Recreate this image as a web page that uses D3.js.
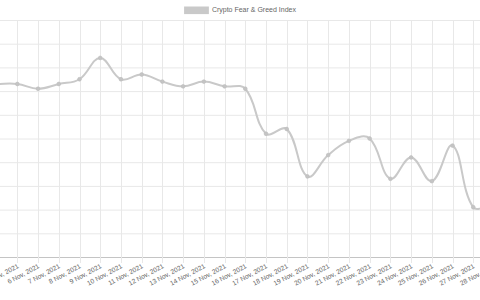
<!DOCTYPE html>
<html>
<head>
<meta charset="utf-8">
<script src="https://cdn.jsdelivr.net/npm/d3@7"></script>
<style>
    body { margin: 0; background: #fff; }
    svg { display: block; font-family: "Liberation Sans", Arial, sans-serif; }
</style>
</head>
<body>
<div class="svg-container"></div>
<script>
// data
const days = ['2021-11-04', '2021-11-05', '2021-11-06', '2021-11-07', '2021-11-08', '2021-11-09',
    '2021-11-10', '2021-11-11', '2021-11-12', '2021-11-13', '2021-11-14', '2021-11-15',
    '2021-11-16', '2021-11-17', '2021-11-18', '2021-11-19', '2021-11-20', '2021-11-21',
    '2021-11-22', '2021-11-23', '2021-11-24', '2021-11-25', '2021-11-26', '2021-11-27',
    '2021-11-28'];
const index_values = [73, 73, 71, 73, 75, 84, 75, 77, 74, 72, 74, 72,
    71, 52, 54, 34, 43, 49, 50, 33, 42, 32, 47, 21, 23];
const y_ticks = [0, 10, 20, 30, 40, 50, 60, 70, 80, 90, 100];
const series_label = 'Crypto Fear & Greed Index';

const parseDay = d3.timeParse('%Y-%m-%d');
const fmtDay = d3.timeFormat('%-d %b, %Y');
const data = days.map((d, i) => [parseDay(d), index_values[i]]);

var viewBox_width = 480,
    viewBox_height = 300,
    top_y = 20,
    bottom_y = 257;

const lineColor = '#c9c9c9',
      gridColor = '#e8e8e8',
      textColor = '#666';

var svg = d3.select('.svg-container')
    .append('svg')
    .attr('width', viewBox_width)
    .attr('height', viewBox_height);

// scales (chart area runs past the left and right edges of the picture)
var xScale = d3.scaleTime()
    .domain(d3.extent(data, d => d[0]))
    .range([-3.4, 494]);
var yScale = d3.scaleLinear().domain([0, 100]).range([bottom_y, top_y]);

// horizontal grid
svg.append('g').attr('class', 'y-grid')
    .selectAll('line')
    .data(y_ticks).enter().append('line')
    .attr('x1', -10).attr('x2', viewBox_width + 10)
    .attr('y1', d => yScale(d) + 0.5).attr('y2', d => yScale(d) + 0.5)
    .attr('stroke', d => d === 0 ? '#c4c4c4' : gridColor)
    .attr('stroke-width', 1);

// vertical grid + tick marks
svg.append('g').attr('class', 'x-grid')
    .selectAll('line')
    .data(data).enter().append('line')
    .attr('x1', d => Math.round(xScale(d[0])) + 0.5)
    .attr('x2', d => Math.round(xScale(d[0])) + 0.5)
    .attr('y1', top_y).attr('y2', bottom_y + 6)
    .attr('stroke', gridColor)
    .attr('stroke-width', 1);

// rotated tick labels
svg.append('g').attr('class', 'x-labels')
    .selectAll('text')
    .data(data).enter().append('text')
    .attr('transform', d => `translate(${xScale(d[0]) + 1},${bottom_y + 9}) rotate(-28)`)
    .attr('text-anchor', 'end')
    .attr('dominant-baseline', 'middle')
    .attr('fill', textColor)
    .style('font-size', '6.6px')
    .text(d => fmtDay(d[0]));

// Chart.js style spline (tension 0.4)
function splinePath(pts, t) {
    const cps = pts.map(function (p, i) {
        const prev = pts[i - 1] || p,
              next = pts[i + 1] || p;
        const d01 = Math.hypot(p[0] - prev[0], p[1] - prev[1]),
              d12 = Math.hypot(next[0] - p[0], next[1] - p[1]);
        let s01 = d01 / (d01 + d12), s12 = d12 / (d01 + d12);
        if (isNaN(s01)) s01 = 0;
        if (isNaN(s12)) s12 = 0;
        const fa = t * s01, fb = t * s12;
        return {
            prev: [p[0] - fa * (next[0] - prev[0]), p[1] - fa * (next[1] - prev[1])],
            next: [p[0] + fb * (next[0] - prev[0]), p[1] + fb * (next[1] - prev[1])]
        };
    });
    const path = d3.path();
    path.moveTo(pts[0][0], pts[0][1]);
    for (let i = 1; i < pts.length; i++) {
        path.bezierCurveTo(cps[i - 1].next[0], cps[i - 1].next[1],
            cps[i].prev[0], cps[i].prev[1], pts[i][0], pts[i][1]);
    }
    return path.toString();
}

const pts = data.map(d => [xScale(d[0]), yScale(d[1])]);

svg.append('path')
    .attr('class', 'line')
    .attr('d', splinePath(pts, 0.4))
    .attr('fill', 'none')
    .attr('stroke', lineColor)
    .attr('stroke-width', 2);

svg.append('g').attr('class', 'points')
    .selectAll('circle')
    .data(data).enter().append('circle')
    .attr('cx', d => xScale(d[0]))
    .attr('cy', d => yScale(d[1]))
    .attr('r', 1.9)
    .attr('fill', '#c4c4c4')
    .attr('stroke', '#bdbdbd')
    .attr('stroke-width', 0.6);

// legend, centred over the canvas
var legend = svg.append('g').attr('class', 'legend');
var legendText = legend.append('text')
    .attr('x', 0).attr('y', 10.5)
    .attr('dominant-baseline', 'middle')
    .attr('fill', textColor)
    .style('font-size', '7px')
    .text(series_label);
var tw = legendText.node().getComputedTextLength();
var boxW = 24.8, gap = 3;
var lx = viewBox_width / 2 - (boxW + gap + tw) / 2;
legend.append('rect')
    .attr('x', lx).attr('y', 6.5)
    .attr('width', boxW).attr('height', 7.6)
    .attr('fill', lineColor);
legendText.attr('x', lx + boxW + gap);
</script>
</body>
</html>
